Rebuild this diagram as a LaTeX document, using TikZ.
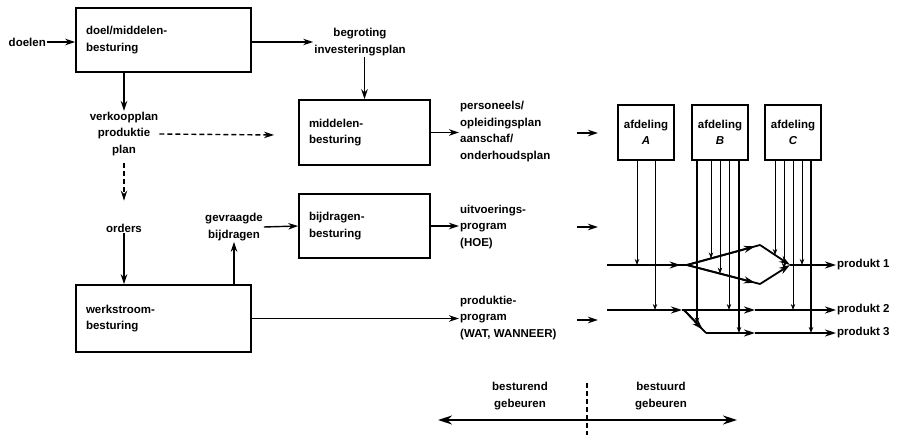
\documentclass[tikz,border=0pt]{standalone}
\usepackage{fontspec}
\setmainfont{Liberation Sans}
\usetikzlibrary{arrows.meta,calc}
\begin{document}
\begin{tikzpicture}[x=1pt,y=-1pt,
  font=\fontsize{11.5}{16.5}\selectfont\bfseries,
  box/.style={draw,line width=1.6pt,inner xsep=10pt,inner ysep=0pt,align=left},
  afd/.style={draw,line width=1.6pt,minimum width=56pt,minimum height=55pt,align=center,inner sep=0pt},
  lbl/.style={inner sep=1pt},
  arr/.style={line width=1.4pt,-{Stealth[length=10pt,width=6.5pt]}},
  dsh/.style={dash pattern=on 5pt off 3pt},
  thinv/.style={line width=0.8pt,-{Stealth[length=6pt,width=4.5pt]}},
  thkv/.style={line width=1.4pt,-{Stealth[length=6pt,width=4.5pt]}},
  flow/.style={line width=1.8pt},
  flowarr/.style={line width=1.8pt,-{Stealth[length=11pt,width=7pt]}},
]
\useasboundingbox (0,0) rectangle (899,435);

% left part
\node[box,text width=155pt,minimum height=64pt] (doel) at (163.5,40) {doel/middelen-\\besturing};
\node[lbl,anchor=east] (doelen) at (47,42) {doelen};
\node[lbl,align=center] (begr) at (360,42) {begroting\\investeringsplan};
\node[box,text width=111pt,minimum height=65pt] (midd) at (364.5,132.5) {middelen-\\besturing};
\node[lbl,align=center] (verk) at (124,134) {verkoopplan\\produktie\\plan};
\node[lbl] (orders) at (124,228) {orders};
\node[lbl,align=center] (gevr) at (234,227) {gevraagde\\bijdragen};
\node[box,text width=111pt,minimum height=64pt] (bijd) at (364.5,226) {bijdragen-\\besturing};
\node[box,text width=155pt,minimum height=67pt] (werk) at (163.5,318.5) {werkstroom-\\besturing};
\node[lbl,anchor=west,align=left] (pers) at (459,131.5) {personeels/\\opleidingsplan\\aanschaf/\\onderhoudsplan};
\node[lbl,anchor=west,align=left] (uitv) at (459,227) {uitvoerings-\\program\\(HOE)};
\node[lbl,anchor=west,align=left] (prod) at (459,318) {produktie-\\program\\(WAT, WANNEER)};

\draw[arr] (doelen.east) -- (doelen.east -| doel.west);
\draw[arr] (doel.east |- begr.west) -- (begr.west);
\draw[arr] (begr.south -| midd.north) -- (midd.north);
\draw[arr] (verk.north |- doel.south) -- (verk.north);
\coordinate (dashend) at (274,135);
\draw[arr,dsh] (verk.east) -- (dashend);
\draw[arr,dsh,shorten <=6pt,shorten >=22pt] (verk.south) -- (orders.north);
\draw[arr] (orders.south) -- (orders.south |- werk.north);
\draw[arr] (gevr.south |- werk.north) -- (gevr.south);
\draw[arr] (gevr.east) -- (bijd.west);
\draw[arr] (midd.east) -- (midd.east -| pers.west);
\draw[arr] (bijd.east) -- (bijd.east -| uitv.west);
\draw[arr] (werk.east) -- (werk.east -| prod.west);

% short arrows
\coordinate (s1a) at (577,133); \coordinate (s1b) at (598,133);
\coordinate (s2a) at (577,227); \coordinate (s2b) at (598,227);
\coordinate (s3a) at (577,320); \coordinate (s3b) at (598,320);
\draw[arr] (s1a) -- (s1b);
\draw[arr] (s2a) -- (s2b);
\draw[arr] (s3a) -- (s3b);

% departments
\node[afd] (A) at (646,132.5) {afdeling\\\textit{A}};
\node[afd] (B) at (720,132.5) {afdeling\\\textit{B}};
\node[afd] (C) at (793,132.5) {afdeling\\\textit{C}};

\foreach \x/\y/\s in {637/265/thinv,655/310/thinv}
  \draw[\s] (A.south -| \x,0) -- (\x,\y);
\foreach \x/\y/\s in {697/323.6/thkv,711/258.4/thinv,720/273.6/thinv,729/310/thinv,739/333/thkv}
  \draw[\s] (B.south -| \x,0) -- (\x,\y);
\foreach \x/\y/\s in {775/255/thinv,784/268.8/thinv,793/310/thinv,802/265/thinv,811/333/thkv}
  \draw[\s] (C.south -| \x,0) -- (\x,\y);

% product flows
\coordinate (S) at (687,265);
\coordinate (U) at (760,245);
\coordinate (L) at (760,284);
\coordinate (M) at (790,265);
\coordinate (p1s) at (607,265);
\node[lbl,anchor=west] (pr1) at (836,265) {produkt 1};
\node[lbl,anchor=west] (pr2) at (836,310) {produkt 2};
\node[lbl,anchor=west] (pr3) at (836,333) {produkt 3};

\draw[flow] (p1s) -- (S);
\draw[flowarr] (p1s) -- ($(p1s)!0.92!(S)$);
\draw[flow] (S) -- (U);
\draw[flowarr] (S) -- ($(S)!0.93!(U)$);
\draw[flowarr] (U) -- (M);
\draw[flow] (S) -- (L);
\draw[flowarr] (S) -- ($(S)!0.93!(L)$);
\draw[flowarr] (L) -- (M);
\draw[flowarr] (M) -- (pr1.west);

\coordinate (p2s) at (607,310);
\coordinate (p2a) at (682,310);
\coordinate (p2b) at (755,310);
\draw[flowarr] (p2s) -- (p2a);
\draw[flowarr] (p2a) -- (p2b);
\draw[flowarr] (p2b) -- (pr2.west);

\coordinate (D0) at (684,310);
\coordinate (D1) at (706,333);
\coordinate (p3a) at (755,333);
\draw[flow] (D0) -- (D1);
\draw[flowarr] (D0) -- ($(D0)!0.85!(D1)$);
\draw[flowarr] (D1) -- (p3a);
\draw[flowarr] (p3a) -- (pr3.west);

% bottom
\coordinate (bl) at (438,420);
\coordinate (br) at (737,420);
\coordinate (dt) at (587,383);
\coordinate (db) at (587,435);
\draw[line width=1.6pt,{Stealth[length=14pt,width=9pt]}-{Stealth[length=14pt,width=9pt]}] (bl) -- (br);
\draw[dsh,line width=1.5pt] (dt) -- (db);
\node[align=center] (bst) at (520,396) {besturend\\gebeuren};
\node[align=center] (bsd) at (661,396) {bestuurd\\gebeuren};
\end{tikzpicture}
\end{document}
